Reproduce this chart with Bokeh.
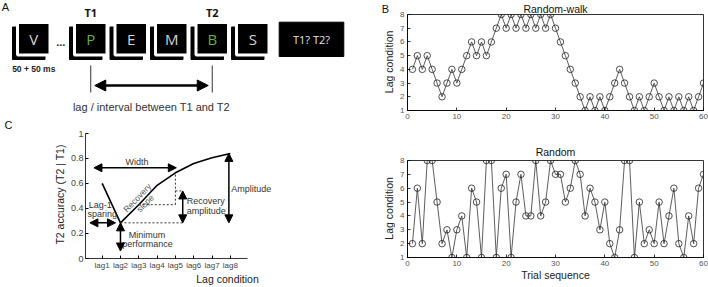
from bokeh.plotting import figure
from bokeh.layouts import row, column
from bokeh.models import Range1d, FixedTicker, Arrow, NormalHead
from bokeh.core.properties import value
from bokeh.embed import file_html
from bokeh.resources import INLINE

FONT = "Liberation Sans"
BOX_FONT = "Open Sans"

# ---------------- data ----------------
# Panel A: RSVP stream
stream_letters = ["V", "P", "E", "M", "B", "S"]
stream_is_target = [False, True, False, False, True, False]
target_names = ["T1", "T2"]

# Panel B: lag sequences over 60 trials
trials = list(range(1, 61))
random_walk = [4, 5, 4, 5, 4, 3, 2, 3, 4, 3,
               4, 5, 6, 5, 6, 5, 6, 7, 8, 7,
               8, 7, 8, 7, 8, 7, 8, 7, 8, 7,
               6, 5, 4, 3, 2, 1, 2, 1, 2, 1,
               2, 3, 4, 3, 2, 1, 2, 1, 2, 3,
               2, 1, 2, 1, 2, 1, 2, 1, 2, 3]
random_seq = [2, 6, 2, 8, 8, 5, 2, 3, 1, 3,
              4, 1, 6, 5, 1, 8, 8, 1, 6, 7,
              1, 5, 7, 4, 4, 8, 4, 5, 8, 7,
              7, 5, 6, 8, 7, 4, 6, 5, 3, 5,
              2, 1, 3, 8, 8, 1, 5, 2, 3, 2,
              5, 2, 4, 6, 2, 1, 4, 2, 6, 7]
trial_ticks = [0, 10, 20, 30, 40, 50, 60]
lag_ticks = [1, 2, 3, 4, 5, 6, 7, 8]

# Panel C: schematic attentional-blink curve
lags = [1, 2, 3, 4, 5, 6, 7, 8]
lag_labels = ["lag1", "lag2", "lag3", "lag4", "lag5", "lag6", "lag7", "lag8"]
t2_accuracy = [0.60, 0.285, 0.43, 0.585, 0.685, 0.76, 0.805, 0.84]
acc_ticks = [0, 0.2, 0.4, 0.6, 0.8, 1]
acc_tick_labels = ["0", "0.2", "0.4", "0.6", "0.8", "1"]


def head(size=8):
    return NormalHead(size=size, fill_color="black", line_color="black", line_width=1)


def double_arrow(p, x0, y0, x1, y1, width=1.5, size=8):
    p.add_layout(Arrow(x_start=x0, y_start=y0, x_end=x1, y_end=y1,
                       start=head(size), end=head(size),
                       line_width=width, line_color="black"))


def txt(p, x, y, s, size="9px", color="#333333", align="center",
        baseline="middle", angle=0.0, font=FONT, style="normal"):
    p.text(x=[x], y=[y], text=[s], text_font=value(font), text_font_size=size,
           text_color=color, text_align=align, text_baseline=baseline,
           angle=angle, text_font_style=style)


def blank(width, height, xr, yr):
    p = figure(width=width, height=height, x_range=xr, y_range=yr,
               x_axis_type=None, y_axis_type=None, output_backend="svg",
               toolbar_location=None, min_border=0, frame_align=False)
    p.grid.visible = False
    p.outline_line_color = None
    return p


# ---------------- Panel A ----------------
A_H = 130
pa = blank(380, A_H, Range1d(0, 380), Range1d(A_H, 0))

BOX = 32.5
STEP = 40.5
box_top, box_bot = 22.0, 54.5
shadow_dx, shadow_dy = -5.0, 4.5
lefts = [17.0] + [74.0 + STEP * k for k in range(len(stream_letters) - 1)]
centers = [l + BOX / 2 for l in lefts]

pa.quad(left=[l + shadow_dx for l in lefts], right=[l + shadow_dx + BOX for l in lefts],
        top=[box_top + shadow_dy] * len(lefts), bottom=[box_bot + shadow_dy] * len(lefts),
        fill_color="black", line_color="black")
pa.quad(left=lefts, right=[l + BOX for l in lefts],
        top=[box_top] * len(lefts), bottom=[box_bot] * len(lefts),
        fill_color="black", line_color="white", line_width=3)
letter_colors = ["#5fb33a" if t else "#d4d4d4" for t in stream_is_target]
pa.text(x=centers, y=[(box_top + box_bot) / 2 + 0.5] * len(centers), text=stream_letters,
        text_color=letter_colors, text_font=value(BOX_FONT), text_font_size="15px",
        text_align="center", text_baseline="middle")

# response screen
resp_left, resp_right = 278.7, 343.3
pa.quad(left=[resp_left], right=[resp_right], top=[21.7], bottom=[56.0],
        fill_color="black", line_color="black")
txt(pa, (resp_left + resp_right) / 2, 39, "T1? T2?", size="11px", color="#e6e6e6",
    font=BOX_FONT)

# ellipsis and timing
txt(pa, (lefts[0] + BOX + lefts[1]) / 2 - 1.5, 41, "...", size="11px", color="#222222",
    baseline="alphabetic", style="bold")
txt(pa, centers[0], 68.5, "50 + 50 ms", size="8.5px", color="#222222", style="bold")

target_centers = [c for c, t in zip(centers, stream_is_target) if t]
for name, c in zip(target_names, target_centers):
    txt(pa, c, 11.5, name, size="11px", color="#111111", style="bold", font=BOX_FONT)

pa.segment(x0=target_centers, y0=[65, 65], x1=target_centers, y1=[92, 92],
           line_color="#333333", line_width=1)
pa.add_layout(Arrow(x_start=target_centers[0] + 4, y_start=85,
                    x_end=target_centers[1] - 4, y_end=85,
                    start=head(11), end=head(11), line_width=2.5, line_color="black"))
txt(pa, sum(target_centers) / 2, 106.5, "lag / interval between T1 and T2",
    size="11px", color="#333333")
txt(pa, 5, 6, "A", size="11px", color="#111111")
txt(pa, 8, 124.3, "C", size="11px", color="#111111")

# ---------------- Panel B ----------------
STRIP_W = 15
B_W = 328 - STRIP_W


def lag_panel(title, values, height, top, bottom, xlabel, title_gap):
    p = figure(width=B_W, height=height, x_range=Range1d(0, 60), y_range=Range1d(1, 8),
               output_backend="svg", toolbar_location=None, frame_align=False,
               min_border_left=27 - STRIP_W, min_border_right=5,
               min_border_top=top, min_border_bottom=bottom)
    p.grid.visible = False
    p.outline_line_color = "black"
    p.outline_line_width = 0.8
    p.title.text = title
    p.title.align = "center"
    p.title.text_font = FONT
    p.title.text_font_size = "10.5px"
    p.title.text_font_style = "normal"
    p.title.text_color = "#111111"
    p.title.standoff = title_gap
    p.xaxis.ticker = FixedTicker(ticks=trial_ticks)
    p.yaxis.ticker = FixedTicker(ticks=lag_ticks)
    for ax in (p.xaxis, p.yaxis):
        ax.major_tick_in = 3
        ax.major_tick_out = 0
        ax.minor_tick_line_color = None
        ax.axis_line_color = "black"
        ax.axis_line_width = 0.8
        ax.major_tick_line_width = 0.8
        ax.major_label_text_font = FONT
        ax.major_label_text_font_size = "8px"
        ax.major_label_text_color = "#555555"
        ax.major_label_standoff = 3
        ax.axis_label_text_font = FONT
        ax.axis_label_text_font_size = "10.5px"
        ax.axis_label_text_font_style = "normal"
        ax.axis_label_text_color = "#222222"
    if xlabel:
        p.xaxis.axis_label = xlabel
        p.xaxis.axis_label_standoff = 0
    p.line(trials, values, line_color="#333333", line_width=0.8)
    p.scatter(trials, values, marker="circle", size=6.5, fill_color=None,
              line_color="#222222", line_width=0.8)
    return p


pb1 = lag_panel("Random-walk", random_walk, 140, 12, 30, None, 0)
pb2 = lag_panel("Random", random_seq, 147, 19, 30, "Trial sequence", 6)

# left strip of panel B: panel letter and the shared y-axis titles
strip = blank(STRIP_W, 287, Range1d(0, STRIP_W), Range1d(0, 287))
txt(strip, 5, 287 - 8, "B", size="11px", color="#111111")
for yc in (287 - 61.4, 287 - 207.9):
    txt(strip, 8.5, yc, "Lag condition", size="10.5px", color="#222222", angle=1.5708)

# ---------------- Panel C ----------------
C_H = 287 - A_H
C_BOTTOM = 24
px_per_unit = 130.0
pc = figure(width=380, height=C_H, x_range=Range1d(0.09, 15.6),
            y_range=Range1d(0, (C_H - C_BOTTOM) / px_per_unit),
            output_backend="svg", toolbar_location=None, frame_align=False,
            min_border_left=85, min_border_right=11,
            min_border_top=0, min_border_bottom=C_BOTTOM)
pc.grid.visible = False
pc.outline_line_color = None
pc.xaxis.ticker = FixedTicker(ticks=lags)
pc.xaxis.major_label_overrides = {k: s for k, s in zip(lags, lag_labels)}
pc.xaxis.bounds = (0.09, 8.93)
pc.yaxis.ticker = FixedTicker(ticks=acc_ticks)
pc.yaxis.major_label_overrides = {k: s for k, s in zip(acc_ticks, acc_tick_labels)}
pc.yaxis.bounds = (0, 1)
for ax in (pc.xaxis, pc.yaxis):
    ax.major_tick_in = 3
    ax.major_tick_out = 0
    ax.minor_tick_line_color = None
    ax.axis_line_color = "black"
    ax.axis_line_width = 0.8
    ax.major_label_text_font = FONT
    ax.major_label_text_color = "#444444"
    ax.major_label_standoff = 2
    ax.axis_label_text_font = FONT
    ax.axis_label_text_font_size = "10.5px"
    ax.axis_label_text_font_style = "normal"
    ax.axis_label_text_color = "#222222"
pc.xaxis.major_label_text_font_size = "8px"
pc.yaxis.major_label_text_font_size = "9px"
pc.xaxis.axis_label = "Lag condition"
pc.xaxis.axis_label_standoff = 0
pc.yaxis.axis_label = "T2 accuracy (T2 | T1)"
pc.yaxis.axis_label_standoff = 2

pc.line(lags, t2_accuracy, line_color="black", line_width=1.6)

min_perf = t2_accuracy[1]
peak = t2_accuracy[-1]
recovery = t2_accuracy[4] - t2_accuracy[2]
rec_x = 5.4

# dotted guides
pc.segment(x0=[2, 3, 5, 5], y0=[min_perf, t2_accuracy[2], t2_accuracy[2], min_perf + recovery],
           x1=[rec_x, 5, 5, rec_x], y1=[min_perf, t2_accuracy[2], t2_accuracy[4], min_perf + recovery],
           line_color="#333333", line_width=1, line_dash="2 2")

double_arrow(pc, 0.55, 0.725, 5.05, 0.725)                  # width
double_arrow(pc, 0.33, min_perf, 1.73, min_perf)            # lag-1 sparing
double_arrow(pc, 2.0, min_perf, 2.0, 0.06)                  # minimum performance
double_arrow(pc, rec_x, min_perf, rec_x, min_perf + recovery)  # recovery amplitude
double_arrow(pc, 7.92, min_perf, 7.92, peak)                # amplitude

txt(pc, 2.9, 0.77, "Width")
txt(pc, 0.9, 0.43, "Lag-1")
txt(pc, 1.0, 0.358, "sparing")
txt(pc, 2.92, 0.485, "Recovery", color="#555555", angle=0.8, size="8.5px")
txt(pc, 3.35, 0.44, "slope", color="#555555", angle=0.8, size="8.5px")
txt(pc, 3.45, 0.185, "Minimum")
txt(pc, 3.47, 0.112, "performance")
txt(pc, 5.62, 0.46, "Recovery", align="left")
txt(pc, 5.62, 0.377, "amplitude", align="left")
txt(pc, 8.05, 0.558, "Amplitude", align="left")

layout = row(column(pa, pc), strip, column(pb1, pb2))
open("out.html", "w").write(file_html(layout, INLINE))
